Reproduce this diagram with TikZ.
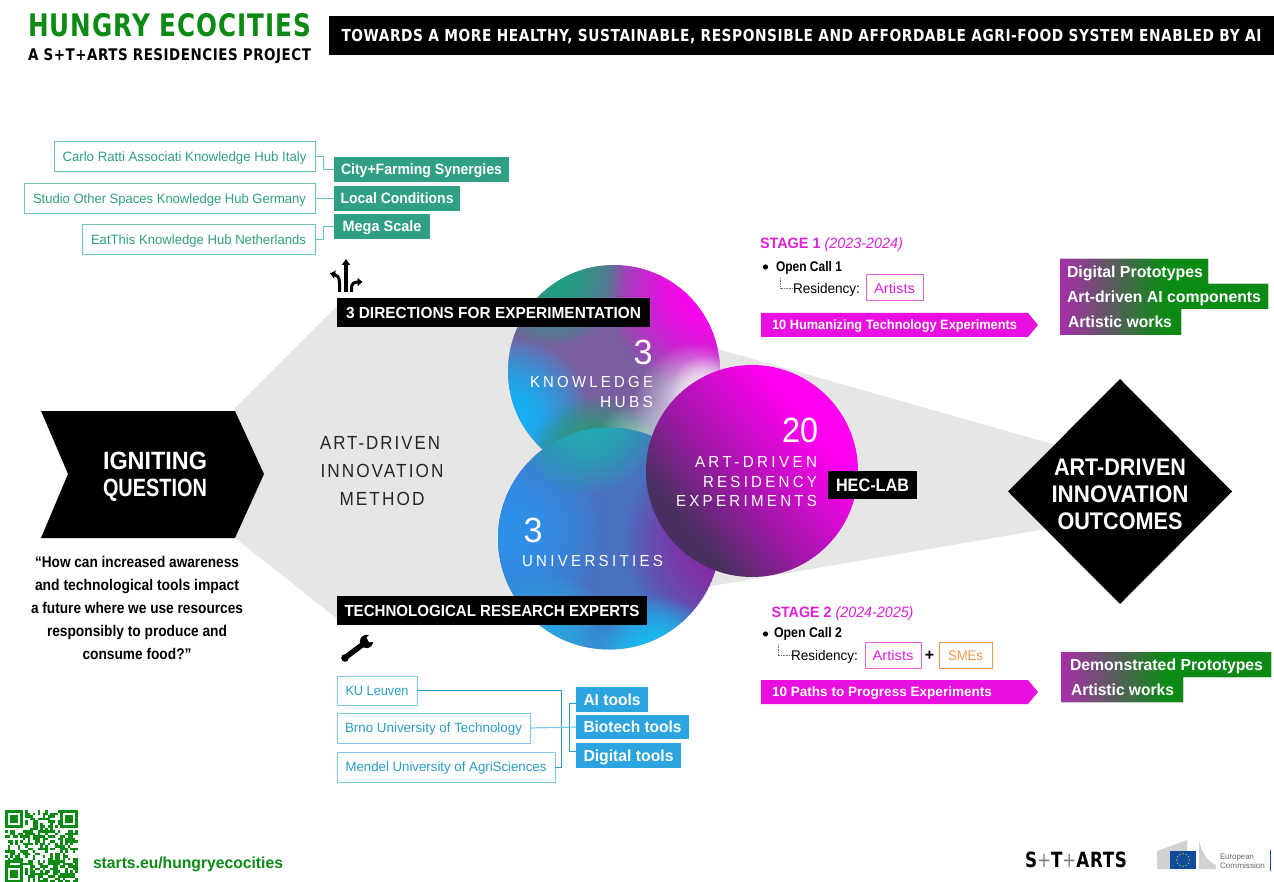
\documentclass[tikz,border=0pt]{standalone}
\usepackage{fontspec}
\setmainfont{Liberation Sans}
\newfontfamily\techno[LetterSpace=4]{DejaVu Sans}
\newfontfamily\spacedw[LetterSpace=22]{Liberation Sans}
\newfontfamily\spacedm[LetterSpace=12]{Liberation Sans}
\usetikzlibrary{shapes.geometric,fadings,arrows.meta}
\definecolor{teal1}{HTML}{2FA083}
\definecolor{teal2}{HTML}{6CC7AF}
\definecolor{blue1}{HTML}{2BA4E0}
\definecolor{blue2}{HTML}{7CCBEE}
\definecolor{blue3}{HTML}{2B9CCB}
\definecolor{mag}{HTML}{E80FE0}
\definecolor{mag2}{HTML}{E264DE}
\definecolor{oran}{HTML}{E89A4A}
\definecolor{grn}{HTML}{0B8A14}
\definecolor{band}{HTML}{E6E6E6}
\definecolor{stage}{HTML}{E020D8}
\definecolor{op}{HTML}{A82EA8}
\definecolor{a1}{HTML}{FF00F0}
\definecolor{a2}{HTML}{A018A8}
\definecolor{a3}{HTML}{4A3060}
\definecolor{kbase}{HTML}{7A5FA0}
\definecolor{ubase}{HTML}{4A70C0}
\definecolor{ecblue}{HTML}{0F4C9E}
\definecolor{kteal}{HTML}{1FA080}
\definecolor{kcyan}{HTML}{14B0F4}
\definecolor{kgreen}{HTML}{1FA070}
\definecolor{ublue}{HTML}{2E90E8}
\definecolor{uteal}{HTML}{22ACB0}
\definecolor{upurp}{HTML}{8A25A0}
\definecolor{ucyan}{HTML}{12C4F4}
\tikzfading[name=softdot, inner color=transparent!0, outer color=transparent!100]
\pgfdeclarehorizontalshading{outshade}{100bp}{color(0bp)=(op); color(25bp)=(op); color(50bp)=(grn); color(100bp)=(grn)}
\pgfdeclareverticalshading{artshade}{100bp}{color(0bp)=(a3); color(30bp)=(a3); color(45bp)=(a2); color(67bp)=(a1); color(100bp)=(a1)}
\newcommand\fitw[2]{\sbox0{#2}\pgfmathsetmacro\fitr{#1/(\the\wd0)}\rule[-.2em]{0pt}{1.12em}\scalebox{\fitr}[1]{\usebox0}}
\newcommand\bx[7]{\pgfmathsetmacro\bcx{(#2+#4)/2}\pgfmathsetmacro\bcy{(#3+#5)/2}\pgfmathsetmacro\bw{#4-#2}\pgfmathsetmacro\bh{#5-#3}\node[#6,minimum width=\bw pt,minimum height=\bh pt] (#1) at (\bcx,\bcy) {#7};}
\newcommand\blob[4]{\fill[#4,path fading=softdot] (#1,#2) circle (#3);\fill[#4,path fading=softdot] (#1,#2) circle (#3);}
\newcommand\blobs[4]{\fill[#4,path fading=softdot] (#1,#2) circle (#3);}
\tikzset{
 fs/.style={font=\fontsize{#1}{#1}\selectfont},
 fsb/.style={font=\fontsize{#1}{#1}\selectfont\bfseries},
 bare/.style={inner sep=0pt,outer sep=0pt},
 tbox/.style={bare,draw=teal2,line width=1pt,text=teal1,fs=13.5},
 tfill/.style={bare,fill=teal1,text=white,fsb=15},
 ubox/.style={bare,draw=blue2,line width=1pt,text=blue3,fs=13.5},
 ufill/.style={bare,fill=blue1,text=white,fsb=16},
 blk/.style={bare,fill=black,text=white,fsb=16},
 tcon/.style={draw=teal2,line width=1pt},
 ucon/.style={draw=blue3,line width=.9pt},
 ucon2/.style={draw=blue2,line width=1.2pt},
 dots/.style={draw=black!55,line width=.6pt,densely dotted},
 txt/.style={bare},
 wt/.style={bare,text=white},
 stg/.style={bare,anchor=west,text=stage,fsb=15},
 mtxt/.style={bare,text=black!85,font=\fontsize{19}{19}\selectfont\spacedm},
 ctxt/.style={bare,text=white,font=\fontsize{16}{16}\selectfont\spacedw},
 num/.style={bare,text=white,fs=35},
 mbox/.style={bare,draw=mag2,line width=1pt,text=stage,fs=14},
 obox/.style={bare,draw=oran,line width=1pt,text=oran,fs=14},
 otxt/.style={bare,anchor=west,text=white,fsb=16},
 arr/.style={bare,text=white,fsb=13.5,anchor=west},
 big/.style={bare,text=white,fsb=24},
 qrc/.style={fill=grn},
}
\begin{document}
\begin{tikzpicture}[x=1pt,y=-1pt]
\useasboundingbox (0,0) rectangle (1274,882);
\fill[white] (0,0) rectangle (1274,882);
% header
\node[bare,anchor=west,text=grn,font=\fontsize{31}{31}\selectfont\techno\bfseries] (title) at (28,25) {\fitw{283}{HUNGRY ECOCITIES}};
\node[bare,anchor=west,text=black,font=\fontsize{16}{16}\selectfont\techno\bfseries] (subtitle) at (28,55) {\fitw{283}{A S+T+ARTS RESIDENCIES PROJECT}};
\bx{banner}{329}{16}{1274}{55}{bare,fill=black,text=white,font=\fontsize{16.5}{16.5}\selectfont\techno\bfseries}{\fitw{920}{TOWARDS A MORE HEALTHY, SUSTAINABLE, RESPONSIBLE AND AFFORDABLE AGRI-FOOD SYSTEM ENABLED BY AI}}
% grey bands
\fill[band] (235,408) -- (345,298) -- (600,298) -- (600,625) -- (345,625) -- (235,538) -- cycle;
\fill[band] (700,344) -- (1056,445) -- (1046,529) -- (700,588) -- cycle;
% igniting question
\fill[black] (41,411) -- (235,411) -- (264,474) -- (235,538) -- (41,538) -- (68,474) -- cycle;
\node[wt,fsb=25] (iq1) at (155,460) {\fitw{104}{IGNITING}};
\node[wt,fsb=25] (iq2) at (155,487) {\fitw{104}{QUESTION}};
\node[txt,fsb=15.5] (q1) at (137,562) {\fitw{204}{“How can increased awareness}};
\node[txt,fsb=15.5] (q2) at (137,585) {\fitw{204}{and technological tools impact}};
\node[txt,fsb=15.5] (q3) at (137,608) {\fitw{212}{a future where we use resources}};
\node[txt,fsb=15.5] (q4) at (137,631) {\fitw{180}{responsibly to produce and}};
\node[txt,fsb=15.5] (q5) at (137,654) {\fitw{109}{consume food?”}};
\node[mtxt] (m1) at (380,443) {\fitw{120}{ART-DRIVEN}};
\node[mtxt] (m2) at (382,471) {\fitw{123}{INNOVATION}};
\node[mtxt] (m3) at (382,499) {\fitw{85}{METHOD}};
% knowledge hub circle
\begin{scope}
\clip (614,371) circle (106);
\fill[kbase] (614,371) circle (106);
\blob{712}{290}{105}{a1}
\blob{552}{275}{72}{kteal}
\blob{510}{415}{80}{kcyan}
\blob{595}{460}{65}{kgreen}
\blobs{640}{445}{45}{kgreen!40!white}
\blobs{695}{405}{62}{white}
\blobs{705}{390}{35}{white}
\end{scope}
% universities circle
\begin{scope}
\clip (609,538.5) circle (111);
\fill[ubase] (609,538.5) circle (111);
\blob{505}{530}{100}{ublue}
\blob{585}{415}{80}{uteal}
\blob{730}{540}{105}{upurp}
\blob{655}{665}{70}{ucyan}
\blob{545}{640}{70}{blue1}
\end{scope}
% art circle
\shade[shading=artshade,shading angle=-50] (752,471) circle (106);
% circle labels
\node[num] (n1) at (643,352) {\fitw{19}{3}};
\node[ctxt,anchor=east] (k1) at (653,382) {\fitw{123}{KNOWLEDGE}};
\node[ctxt,anchor=east] (k2) at (653,402) {\fitw{53}{HUBS}};
\node[num] (n2) at (533,530) {\fitw{19}{3}};
\node[ctxt,anchor=west] (u1) at (522,561) {\fitw{141}{UNIVERSITIES}};
\node[num] (n3) at (800,430) {\fitw{36}{20}};
\node[ctxt,anchor=east] (a1t) at (817,462) {\fitw{122}{ART-DRIVEN}};
\node[ctxt,anchor=east] (a2t) at (817,482) {\fitw{114}{RESIDENCY}};
\node[ctxt,anchor=east] (a3t) at (817,501) {\fitw{141}{EXPERIMENTS}};
\bx{hec}{828}{471}{917}{499}{blk,fsb=18}{\fitw{73}{HEC-LAB}}
\bx{dirs}{337}{298}{650}{327}{blk}{\fitw{295}{3 DIRECTIONS FOR EXPERIMENTATION}}
\bx{exps}{337}{596}{647}{625}{blk}{\fitw{295}{TECHNOLOGICAL RESEARCH EXPERTS}}
% knowledge hub boxes
\bx{carlo}{54}{142}{315}{172}{tbox}{\fitw{244}{Carlo Ratti Associati Knowledge Hub Italy}}
\bx{studio}{24}{184}{315}{214}{tbox}{\fitw{273}{Studio Other Spaces Knowledge Hub Germany}}
\bx{eat}{82}{225}{315}{255}{tbox}{\fitw{215}{EatThis Knowledge Hub Netherlands}}
\bx{city}{334}{157}{509}{182}{tfill}{\fitw{161}{City+Farming Synergies}}
\bx{local}{334}{186}{460}{211}{tfill}{\fitw{113}{Local Conditions}}
\bx{mega}{334}{214}{430}{239}{tfill}{\fitw{79}{Mega Scale}}
\draw[tcon] (carlo.east) -- ++(8,0) |- (city.west);
\draw[tcon] (studio.east) -- (studio.east -| local.west);
\draw[tcon] (eat.east) -- ++(8,0) |- (mega.west);
% directions icon
\draw[line width=3.2pt,-{Triangle[length=6pt,width=8pt]}] (346,292) -- (346,259);
\draw[line width=3pt,-{Triangle[length=5pt,width=8pt]}] (339.5,292) -- (339.5,283) .. controls (339.5,277) and (337,275) .. (330,273.5);
\draw[line width=3pt,-{Triangle[length=5pt,width=8pt]}] (351.5,292) -- (351.5,288) .. controls (351.5,284) and (354,282) .. (362.5,282);
% wrench
\fill[black] (345,658) circle (3.8);
\draw[line width=5.4pt,line cap=round] (346,657) -- (366,642);
\fill[black] (366.5,641.5) circle (6.6);
\fill[white] (369,642) -- (376,642) -- (373,632) -- (366.5,637.5) -- cycle;
\fill[white] (341,660) -- (344,662.5) -- (342,664) -- (339,661) -- cycle;
% universities boxes
\bx{ku}{337}{676}{417}{705}{ubox}{\fitw{63}{KU Leuven}}
\bx{brno}{337}{713}{530}{743}{ubox}{\fitw{177}{Brno University of Technology}}
\bx{mendel}{337}{752}{555}{782}{ubox}{\fitw{201}{Mendel University of AgriSciences}}
\bx{ai}{576}{687}{648}{712}{ufill}{\fitw{57}{AI tools}}
\bx{bio}{576}{715}{689}{739}{ufill}{\fitw{98}{Biotech tools}}
\bx{dig}{576}{743}{681}{768}{ufill}{\fitw{90}{Digital tools}}
\coordinate (trunk) at (561.5,690.5);
\draw[ucon] (ku.east) -- (trunk) |- (mendel.east);
\draw[ucon2] (brno.east) -- (bio.west);
\draw[ucon] ([yshift=-3.5pt]ai.west) -- ++(-7,0) |- ([yshift=4.5pt]dig.west);
% stage 1
\node[stg] (s1) at (760,243) {\fitw{143}{STAGE 1 {\mdseries\itshape (2023-2024)}}};
\fill[black] (765.5,267) circle (2.6);
\node[txt,anchor=west,fsb=14] (oc1) at (776,266.5) {\fitw{66}{Open Call 1}};
\bx{art1}{866}{275}{923}{301}{mbox}{\fitw{41}{Artists}}
\node[txt,anchor=west,fs=14] (res1) at (793,288.5) {\fitw{67}{Residency:}};
\coordinate (d1) at (780,278);
\draw[dots] (d1) |- (res1.west);
\fill[mag] (761,313) -- (1028,313) -- (1038,325) -- (1028,337) -- (761,337) -- cycle;
\node[arr] (e1) at (772,325) {\fitw{245}{10 Humanizing Technology Experiments}};
\fill[shading=outshade] (1060,259) -- (1208,259) -- (1208,284) -- (1268,284) -- (1268,309) -- (1181,309) -- (1181,335) -- (1060,335) -- cycle;
\node[otxt] (o1) at (1067,271.5) {\fitw{136}{Digital Prototypes}};
\node[otxt] (o2) at (1067,296.5) {\fitw{194}{Art-driven AI components}};
\node[otxt] (o3) at (1068,322) {\fitw{104}{Artistic works}};
% stage 2
\node[stg] (s2) at (771.5,612) {\fitw{142}{STAGE 2 {\mdseries\itshape (2024-2025)}}};
\fill[black] (765.5,634) circle (2.6);
\node[txt,anchor=west,fsb=14] (oc2) at (774,633) {\fitw{68}{Open Call 2}};
\bx{art2}{865}{642}{921}{668}{mbox}{\fitw{41}{Artists}}
\bx{sme}{939}{642}{992}{668}{obox}{\fitw{35}{SMEs}}
\node[txt,fsb=16] (plus) at (929.5,656) {+};
\node[txt,anchor=west,fs=14] (res2) at (791,655.5) {\fitw{67}{Residency:}};
\coordinate (d2) at (778,644);
\draw[dots] (d2) |- (res2.west);
\fill[mag] (761,680) -- (1028,680) -- (1038,692) -- (1028,704) -- (761,704) -- cycle;
\node[arr] (e2) at (772,692) {\fitw{220}{10 Paths to Progress Experiments}};
\fill[shading=outshade] (1061,652) -- (1271,652) -- (1271,677) -- (1183,677) -- (1183,702) -- (1061,702) -- cycle;
\node[otxt] (o4) at (1070,664.5) {\fitw{193}{Demonstrated Prototypes}};
\node[otxt] (o5) at (1071,690) {\fitw{103}{Artistic works}};
% outcomes
\node[diamond,fill=black,bare,minimum width=224pt,minimum height=225pt] (outc) at (1120,491.5) {};
\node[big] (b1) at (1120,467) {\fitw{132}{ART-DRIVEN}};
\node[big] (b2) at (1120,494) {\fitw{137}{INNOVATION}};
\node[big] (b3) at (1120,521) {\fitw{125}{OUTCOMES}};
% QR
\begin{scope}
\clip (5,810) rectangle (78,882);
\pgfmathsetseed{7}
\foreach \i in {0,...,28} \foreach \j in {0,...,28} {
  \pgfmathrandominteger{\rr}{0}{1}
  \ifnum\rr=1 \fill[qrc] (5+2.5*\i,810+2.5*\j) rectangle ++(2.6,2.6); \fi
}
\foreach \x/\y in {5/810, 60/810, 5/865} {
  \fill[white] (\x-.1,\y-.1) rectangle ++(20,20);
  \fill[qrc] (\x,\y) rectangle ++(17.5,17.5);
  \fill[white] (\x+2.5,\y+2.5) rectangle ++(12.5,12.5);
  \fill[qrc] (\x+5,\y+5) rectangle ++(7.5,7.5);
}
\end{scope}
\node[bare,anchor=west,text=grn,fsb=16] (url) at (93,863) {\fitw{190}{starts.eu/hungryecocities}};
% logos
\node[bare,anchor=west,text=black,font=\fontsize{21}{21}\selectfont\techno\bfseries] (logo) at (1025,860) {\fitw{102}{S{\mdseries\color{black!50}+}T{\mdseries\color{black!50}+}ARTS}};
\fill[black!18] (1157,851) -- (1187,840) -- (1187,869) -- (1157,869) -- cycle;
\fill[black!18] (1199,840) .. controls (1201,852) and (1208,862) .. (1216,865) -- (1216,869) -- (1199,869) -- cycle;
\fill[ecblue] (1170,851) rectangle (1196,869);
\foreach \a in {0,30,...,330} \fill[yellow!90!orange] (1183,860)++(\a:6.2) circle (.7);
\node[bare,anchor=west,text=black!60,fs=8] (ec1) at (1220,857) {\fitw{34}{European}};
\node[bare,anchor=west,text=black!60,fs=8] (ec2) at (1220,866) {\fitw{45}{Commission}};
\fill[ecblue] (1269.5,850) rectangle (1271,871);
\end{tikzpicture}
\end{document}
